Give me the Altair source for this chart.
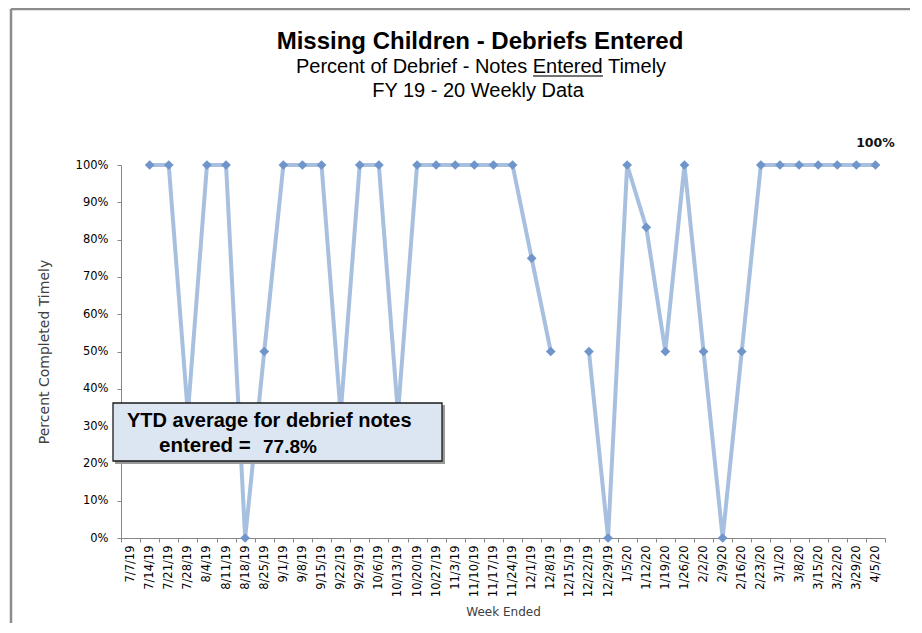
import altair as alt
import pandas as pd

weeks = ["7/7/19", "7/14/19", "7/21/19", "7/28/19", "8/4/19", "8/11/19", "8/18/19", "8/25/19",
         "9/1/19", "9/8/19", "9/15/19", "9/22/19", "9/29/19", "10/6/19", "10/13/19", "10/20/19",
         "10/27/19", "11/3/19", "11/10/19", "11/17/19", "11/24/19", "12/1/19", "12/8/19",
         "12/15/19", "12/22/19", "12/29/19", "1/5/20", "1/12/20", "1/19/20", "1/26/20", "2/2/20",
         "2/9/20", "2/16/20", "2/23/20", "3/1/20", "3/8/20", "3/15/20", "3/22/20", "3/29/20", "4/5/20"]
pct = [None, 100, 100, 33.3, 100, 100, 0, 50,
       100, 100, 100, 33.3, 100, 100, 33.3, 100,
       100, 100, 100, 100, 100, 75, 50,
       None, 50, 0, 100, 83.3, 50, 100, 50,
       0, 50, 100, 100, 100, 100, 100, 100, 100]

title_main = "Missing Children - Debriefs Entered"
title_sub1 = "Percent of Debrief - Notes Entered Timely"
title_sub2 = "FY 19 - 20  Weekly Data"
ytd_line1 = "YTD average for debrief notes"
ytd_line2 = "entered ="
ytd_value = "77.8%"

df = pd.DataFrame({"week": weeks, "pct": pct, "idx": range(len(weeks))})
df["seg"] = df["pct"].isna().cumsum()
valid = df.dropna(subset=["pct"]).copy()
last = valid.tail(1).copy()
last["label"] = last["pct"].map(lambda v: f"{v:.0f}%")

W, H = 764, 373
PL, PT, PR, PB = 113, 157, 25, 85

xenc = alt.X(
    "week:N", sort=weeks,
    scale=alt.Scale(type="band", domain=weeks, paddingInner=0, paddingOuter=0),
    axis=alt.Axis(title="Week Ended", labelAngle=-90, tickBand="extent", tickSize=4,
                  labelPadding=3, labelFont="DejaVu Sans", labelFontSize=11.5, labelColor="#000",
                  domainColor="#868686", tickColor="#868686", titleFont="DejaVu Sans",
                  titleFontSize=12, titleFontWeight="normal", titleColor="#404040", titlePadding=10,
                  labelOverlap=False),
)
yenc = alt.Y(
    "pct:Q", scale=alt.Scale(domain=[0, 100], nice=False),
    axis=alt.Axis(title="Percent Completed Timely", values=list(range(0, 101, 10)),
                  labelExpr="datum.value + '%'", grid=False, tickSize=4, labelPadding=9,
                  labelFont="DejaVu Sans", labelFontSize=11.5, labelColor="#000",
                  domainColor="#868686", tickColor="#868686", titleFont="DejaVu Sans",
                  titleFontSize=14, titleFontWeight="normal", titleColor="#404040", titlePadding=24),
)

line = alt.Chart(valid).mark_line(color="#a8c0e0", strokeWidth=4).encode(
    x=xenc, y=yenc, detail="seg:N", order="idx:Q")
points = alt.Chart(valid).mark_point(shape="diamond", filled=True, size=95, color="#6f95cb",
                                     opacity=1).encode(x=xenc, y=yenc)
lastlab = alt.Chart(last).mark_text(font="DejaVu Sans", fontWeight="bold", fontSize=12.5,
                                    color="#111", dy=-18, baseline="alphabetic").encode(
    x=xenc, y=yenc, text="label:N")

one = pd.DataFrame({"a": [0]})
base = alt.Chart(one)

frame_top = base.mark_rule(color="#8c8c8c", strokeWidth=2.5).encode(
    x=alt.value(-110), x2=alt.value(W + PR), y=alt.value(-156), y2=alt.value(-156))
frame_left = base.mark_rule(color="#8c8c8c", strokeWidth=2.5).encode(
    x=alt.value(-110), x2=alt.value(-110), y=alt.value(-156), y2=alt.value(H + PB))

t1 = base.mark_text(font="Liberation Sans", fontWeight="bold", fontSize=24, color="#000",
                    align="center", baseline="alphabetic").encode(
    x=alt.value(359), y=alt.value(-116), text=alt.value(title_main))
t2 = base.mark_text(font="Liberation Sans", fontSize=20, color="#000",
                    align="center", baseline="alphabetic").encode(
    x=alt.value(360), y=alt.value(-92), text=alt.value(title_sub1))
t3 = base.mark_text(font="Liberation Sans", fontSize=20, color="#000",
                    align="center", baseline="alphabetic").encode(
    x=alt.value(357), y=alt.value(-68), text=alt.value(title_sub2))
underline = base.mark_rule(color="#444", strokeWidth=1.5).encode(
    x=alt.value(412), x2=alt.value(482), y=alt.value(-89), y2=alt.value(-89))

shadow = base.mark_rect(color="#9a9a9a").encode(
    x=alt.value(-6), x2=alt.value(324), y=alt.value(240), y2=alt.value(299))
box = base.mark_rect(fill="#dce6f2", stroke="#1a1a1a", strokeWidth=1.3).encode(
    x=alt.value(-8), x2=alt.value(321), y=alt.value(238), y2=alt.value(296))
b1 = base.mark_text(font="Liberation Sans", fontWeight="bold", fontSize=20, color="#000",
                    align="left", baseline="alphabetic").encode(
    x=alt.value(6), y=alt.value(262), text=alt.value(ytd_line1))
b2 = base.mark_text(font="Liberation Sans", fontWeight="bold", fontSize=20.5, color="#000",
                    align="left", baseline="alphabetic").encode(
    x=alt.value(38), y=alt.value(287), text=alt.value(ytd_line2))
b3 = base.mark_text(font="Liberation Sans", fontWeight="bold", fontSize=19, color="#000",
                    align="left", baseline="alphabetic").encode(
    x=alt.value(142), y=alt.value(288), text=alt.value(ytd_value))

chart = alt.layer(
    frame_top, frame_left, t1, t2, t3, underline,
    line, points, lastlab, shadow, box, b1, b2, b3
).properties(
    width=W, height=H,
    autosize=alt.AutoSizeParams(type="none"),
    padding={"left": PL, "top": PT, "right": PR, "bottom": PB},
    background="white",
).configure_view(stroke=None)

chart.save("out.html", embed_options={"renderer": "svg", "actions": False})
